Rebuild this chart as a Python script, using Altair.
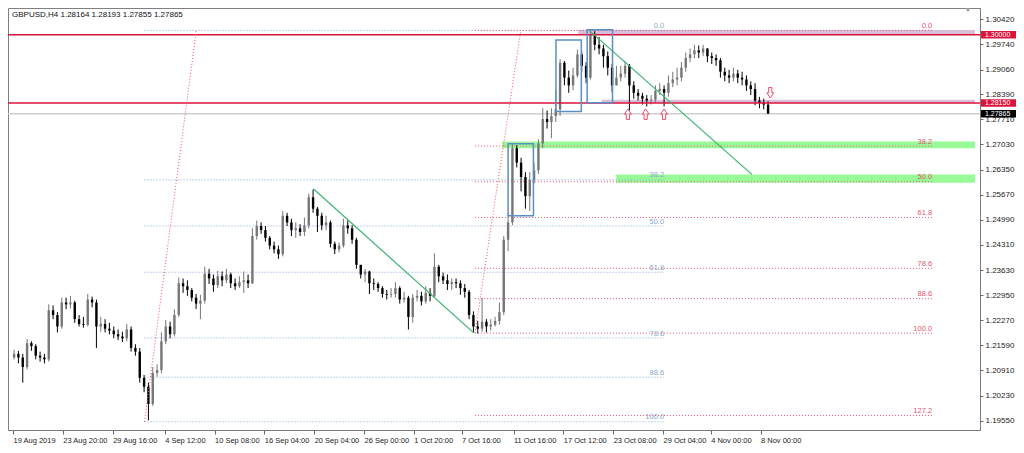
import json
import altair as alt
import pandas as pd

HEADER = "GBPUSD,H4  1.28164 1.28193 1.27855 1.27865"

# candles (each = two H4 bars), open of first candle, then close/high/low
OPEN0 = 1.2126
CLOSE = [1.2136, 1.2126, 1.2100, 1.2165, 1.2157, 1.2131, 1.2126, 1.2121, 1.2254, 1.2241,
         1.2210, 1.2275, 1.2270, 1.2275, 1.2230, 1.2217, 1.2215, 1.2283, 1.2275, 1.2210,
         1.2217, 1.2204, 1.2199, 1.2189, 1.2183, 1.2178, 1.2202, 1.2152, 1.2142, 1.2071,
         1.2047, 1.2000, 1.2084, 1.2092, 1.2170, 1.2210, 1.2189, 1.2241, 1.2327, 1.2319,
         1.2309, 1.2288, 1.2272, 1.2280, 1.2353, 1.2340, 1.2322, 1.2346, 1.2335, 1.2351,
         1.2327, 1.2319, 1.2330, 1.2335, 1.2327, 1.2455, 1.2482, 1.2471, 1.2450, 1.2429,
         1.2419, 1.2406, 1.2510, 1.2492, 1.2471, 1.2476, 1.2466, 1.2484, 1.2560, 1.2529,
         1.2510, 1.2484, 1.2492, 1.2434, 1.2419, 1.2429, 1.2484, 1.2476, 1.2445, 1.2377,
         1.2351, 1.2359, 1.2327, 1.2325, 1.2314, 1.2298, 1.2296, 1.2298, 1.2314, 1.2283,
         1.2288, 1.2236, 1.2288, 1.2293, 1.2278, 1.2301, 1.2293, 1.2372, 1.2346, 1.2335,
         1.2325, 1.2330, 1.2327, 1.2314, 1.2304, 1.2241, 1.2210, 1.2204, 1.2223, 1.2210,
         1.2215, 1.2225, 1.2249, 1.2445, 1.2492, 1.2693, 1.2654, 1.2615, 1.2563, 1.2607,
         1.2633, 1.2706, 1.2772, 1.2764, 1.2780, 1.2798, 1.2924, 1.2884, 1.2863, 1.2890,
         1.2947, 1.2916, 1.2884, 1.2999, 1.2973, 1.2963, 1.2942, 1.2911, 1.2863, 1.2884,
         1.2895, 1.2916, 1.2863, 1.2843, 1.2835, 1.2827, 1.2822, 1.2824, 1.2848, 1.2853,
         1.2843, 1.2869, 1.2879, 1.2884, 1.2911, 1.2937, 1.2947, 1.2958, 1.2952, 1.2963,
         1.2942, 1.2937, 1.2931, 1.2900, 1.2890, 1.2884, 1.2895, 1.2884, 1.2879, 1.2863,
         1.2853, 1.2822, 1.2816, 1.2811, 1.27865]
HIGH = [1.2147, 1.2144, 1.2136, 1.2176, 1.2170, 1.2162, 1.2142, 1.2136, 1.2270, 1.2267,
        1.2249, 1.2288, 1.2288, 1.2293, 1.2280, 1.2241, 1.2236, 1.2298, 1.2291, 1.2283,
        1.2236, 1.2230, 1.2220, 1.2210, 1.2202, 1.2196, 1.2217, 1.2210, 1.2162, 1.2152,
        1.2079, 1.2058, 1.2100, 1.2108, 1.2194, 1.2228, 1.2223, 1.2257, 1.2343, 1.2340,
        1.2335, 1.2314, 1.2298, 1.2296, 1.2372, 1.2366, 1.2351, 1.2361, 1.2359, 1.2366,
        1.2356, 1.2340, 1.2346, 1.2359, 1.2351, 1.2476, 1.2497, 1.2492, 1.2482, 1.2455,
        1.2440, 1.2429, 1.2523, 1.2518, 1.2502, 1.2492, 1.2487, 1.2505, 1.2570, 1.2581,
        1.2534, 1.2518, 1.2510, 1.2497, 1.2440, 1.2437, 1.2502, 1.2497, 1.2484, 1.2450,
        1.2372, 1.2366, 1.2361, 1.2340, 1.2330, 1.2319, 1.2309, 1.2314, 1.2330, 1.2319,
        1.2304, 1.2293, 1.2298, 1.2309, 1.2304, 1.2319, 1.2314, 1.2408, 1.2377, 1.2356,
        1.2351, 1.2340, 1.2340, 1.2335, 1.2325, 1.2309, 1.2251, 1.2225, 1.2288, 1.2230,
        1.2230, 1.2236, 1.2275, 1.2455, 1.2513, 1.2706, 1.2701, 1.2667, 1.2628, 1.2628,
        1.2654, 1.2717, 1.2801, 1.2795, 1.2801, 1.2850, 1.2934, 1.2929, 1.2903, 1.2911,
        1.2960, 1.2955, 1.2926, 1.3012, 1.3010, 1.2994, 1.2973, 1.2955, 1.2921, 1.2916,
        1.2916, 1.2929, 1.2921, 1.2874, 1.2853, 1.2843, 1.2837, 1.2837, 1.2863, 1.2869,
        1.2863, 1.2890, 1.2900, 1.2911, 1.2926, 1.2952, 1.2963, 1.2973, 1.2971, 1.2973,
        1.2963, 1.2952, 1.2947, 1.2937, 1.2911, 1.2905, 1.2911, 1.2905, 1.2900, 1.2890,
        1.2874, 1.2869, 1.2832, 1.2827, 1.2820]
LOW = [1.2121, 1.2110, 1.2058, 1.2094, 1.2144, 1.2121, 1.2115, 1.2110, 1.2115, 1.2230,
       1.2194, 1.2204, 1.2257, 1.2259, 1.2220, 1.2210, 1.2207, 1.2210, 1.2262, 1.2152,
       1.2196, 1.2194, 1.2189, 1.2178, 1.2173, 1.2168, 1.2170, 1.2142, 1.2131, 1.2058,
       1.2032, 1.1956, 1.1995, 1.2074, 1.2084, 1.2162, 1.2178, 1.2183, 1.2236, 1.2301,
       1.2293, 1.2278, 1.2257, 1.2230, 1.2272, 1.2325, 1.2304, 1.2314, 1.2319, 1.2327,
       1.2314, 1.2309, 1.2314, 1.2301, 1.2314, 1.2325, 1.2445, 1.2461, 1.2440, 1.2419,
       1.2408, 1.2393, 1.2400, 1.2482, 1.2455, 1.2450, 1.2455, 1.2455, 1.2476, 1.2518,
       1.2466, 1.2471, 1.2471, 1.2424, 1.2406, 1.2411, 1.2424, 1.2461, 1.2434, 1.2366,
       1.2340, 1.2330, 1.2298, 1.2309, 1.2304, 1.2288, 1.2283, 1.2288, 1.2288, 1.2272,
       1.2275, 1.2202, 1.2220, 1.2278, 1.2267, 1.2272, 1.2278, 1.2288, 1.2330, 1.2325,
       1.2309, 1.2309, 1.2314, 1.2296, 1.2288, 1.2230, 1.2194, 1.2191, 1.2196, 1.2194,
       1.2199, 1.2210, 1.2215, 1.2241, 1.2414, 1.2484, 1.2641, 1.2576, 1.2529, 1.2523,
       1.2597, 1.2623, 1.2693, 1.2746, 1.2720, 1.2764, 1.2780, 1.2863, 1.2843, 1.2850,
       1.2884, 1.2900, 1.2869, 1.2879, 1.2958, 1.2947, 1.2911, 1.2890, 1.2845, 1.2863,
       1.2874, 1.2884, 1.2795, 1.2827, 1.2822, 1.2811, 1.2806, 1.2811, 1.2816, 1.2837,
       1.2806, 1.2832, 1.2858, 1.2863, 1.2874, 1.2900, 1.2926, 1.2937, 1.2937, 1.2942,
       1.2926, 1.2921, 1.2916, 1.2884, 1.2874, 1.2869, 1.2874, 1.2869, 1.2863, 1.2848,
       1.2837, 1.2809, 1.2801, 1.2798, 1.27855]

TICK_POS = [0, 23, 46, 70, 93, 116, 139, 162, 185, 207, 231, 254, 277, 300, 322, 345]
TICK_LABELS = ["19 Aug 2019", "23 Aug 20:00", "29 Aug 16:00", "4 Sep 12:00", "10 Sep 08:00",
               "16 Sep 04:00", "20 Sep 04:00", "26 Sep 00:00", "1 Oct 20:00", "7 Oct 16:00",
               "11 Oct 16:00", "17 Oct 12:00", "23 Oct 08:00", "29 Oct 04:00", "4 Nov 00:00",
               "8 Nov 00:00"]
Y_TICKS = [1.30420, 1.29740, 1.29060, 1.28390, 1.27710, 1.27030, 1.26350, 1.25670, 1.24990,
           1.24310, 1.23630, 1.22950, 1.22270, 1.21590, 1.20910, 1.20230, 1.19550]

# Fibonacci retracements: (start bar, end bar, high, low)
FIB_LEVELS_BLUE = [0.0, 38.2, 50.0, 61.8, 78.6, 88.6, 100.0]
FIB_BLUE = (60.7, 300.5, 1.3012, 1.1952)
FIB_LEVELS_RED = [0.0, 38.2, 50.0, 61.8, 78.6, 88.6, 100.0, 127.2]
FIB_RED = (213.2, 424.2, 1.3012, 1.2192)

# dotted fib diagonals (x1, p1, x2, p2)
DIAGONALS = [(60.7, 1.1952, 84.6, 1.3012), (213.2, 1.2192, 234.4, 1.3012)]
# green trend lines
TRENDS = [(138.6, 1.2583, 212.8, 1.2192), (265.9, 1.3012, 341.0, 1.2622)]
# blue rectangles (x1, x2, p1, p2)
BOXES = [(228.5, 240.2, 1.2705, 1.2510), (250.6, 262.3, 1.2986, 1.2792), (265.0, 276.7, 1.3014, 1.2816)]
# zones (x1, x2, p1, p2, colour)
ZONES = [(260.9, 444, 1.3013, 1.3001, "#d8bfd8"), (271.7, 444, 1.2824, 1.2815, "#d8bfd8"),
         (225.8, 444, 1.2711, 1.2693, "#98fb98"), (278.4, 444, 1.2622, 1.2599, "#98fb98")]
RED_LINES = [1.30000, 1.28150]
BID = 1.27865
UP_ARROWS = [(283.8, 1.2785), (292.0, 1.2785), (300.5, 1.2785)]
DOWN_ARROWS = [(349.5, 1.2843)]
TAG_PRICES = [1.30000, 1.28150, 1.27865]
TAG_COLORS = ["#dc143c", "#dc143c", "#000000"]

W, H = 972, 422
FONT = "Liberation Sans"
X_SCALE = alt.Scale(domain=[0, 444], nice=False, zero=False)
Y_SCALE = alt.Scale(domain=[1.19297, 1.30726], nice=False, zero=False)
XAX = alt.Axis(values=TICK_POS, labelExpr=f"{json.dumps(TICK_LABELS)}[indexof({json.dumps(TICK_POS)}, datum.value)]",
               labelAlign="left", labelPadding=2, tickSize=4, tickColor="#666", domainColor="#7a7a7a",
               labelFontSize=7.5, labelColor="#222", labelFont=FONT, labelOverlap=False, labelFlush=False,
               labelBound=False, grid=False, title=None)
YAX = alt.Axis(orient="right", values=Y_TICKS, format=".5f", labelFontSize=8, labelColor="#222",
               labelFont=FONT, tickSize=3, tickColor="#666", domainColor="#7a7a7a", labelPadding=2,
               labelOverlap=False, grid=False, title=None)


def X(f):
    return alt.X(f, type="quantitative", scale=X_SCALE, axis=XAX, title=None)


def Y(f):
    return alt.Y(f, type="quantitative", scale=Y_SCALE, axis=YAX, title=None)


opens = [OPEN0] + CLOSE[:-1]
cdf = pd.DataFrame({"i": [2 * k + 0.5 for k in range(len(CLOSE))], "o": opens, "c": CLOSE,
                    "h": [max(h, o, c) for h, o, c in zip(HIGH, opens, CLOSE)],
                    "l": [min(l, o, c) for l, o, c in zip(LOW, opens, CLOSE)]})
col = alt.condition("datum.c >= datum.o", alt.value("#767676"), alt.value("#000000"))

zdf = pd.DataFrame(ZONES, columns=["x1", "x2", "p1", "p2", "col"])
zones = alt.Chart(zdf).mark_rect().encode(x=X("x1"), x2="x2", y=Y("p1"), y2="p2",
                                          color=alt.Color("col:N", scale=None))

fib_rows = []
for lv in FIB_LEVELS_BLUE:
    x1, x2, hi, lo = FIB_BLUE
    fib_rows.append({"x1": x1, "x2": x2, "p": hi - (hi - lo) * lv / 100, "t": f"{lv:.1f}",
                     "col": "#86a8d4", "tc": "#8ea6c8"})
for lv in FIB_LEVELS_RED:
    x1, x2, hi, lo = FIB_RED
    fib_rows.append({"x1": x1, "x2": x2, "p": hi - (hi - lo) * lv / 100, "t": f"{lv:.1f}",
                     "col": "#ec5a78", "tc": "#e0566f"})
fdf = pd.DataFrame(fib_rows)
fib_lines = alt.Chart(fdf).mark_rule(strokeDash=[1, 2], strokeWidth=1).encode(
    x=X("x1"), x2="x2", y=Y("p"), color=alt.Color("col:N", scale=None))
fib_text = alt.Chart(fdf).mark_text(align="right", baseline="bottom", fontSize=7.5, font=FONT, dy=-0.5).encode(
    x=X("x2"), y=Y("p"), text="t:N", color=alt.Color("tc:N", scale=None))

ddf = pd.DataFrame(DIAGONALS, columns=["x1", "p1", "x2", "p2"])
diags = alt.Chart(ddf).mark_rule(strokeDash=[1, 2], strokeWidth=1, color="#ff4d5a").encode(
    x=X("x1"), y=Y("p1"), x2="x2", y2="p2")
tdf = pd.DataFrame(TRENDS, columns=["x1", "p1", "x2", "p2"])
trends = alt.Chart(tdf).mark_rule(strokeWidth=1.2, color="#3cb371").encode(
    x=X("x1"), y=Y("p1"), x2="x2", y2="p2")
bdf = pd.DataFrame(BOXES, columns=["x1", "x2", "p1", "p2"])
boxes = alt.Chart(bdf).mark_rect(fillOpacity=0, stroke="#5b8ec4", strokeWidth=1.5).encode(
    x=X("x1"), x2="x2", y=Y("p1"), y2="p2")

bid = alt.Chart(pd.DataFrame({"p": [BID]})).mark_rule(color="#cfcfcf", strokeWidth=1.5).encode(y=Y("p"))
red = alt.Chart(pd.DataFrame({"p": RED_LINES})).mark_rule(color="#dc143c", strokeWidth=1.5).encode(y=Y("p"))

wicks = alt.Chart(cdf).mark_rule(strokeWidth=1).encode(x=X("i"), y=Y("l"), y2="h", color=col)
bodies = alt.Chart(cdf).mark_bar(size=2.4).encode(x=X("i"), y=Y("o"), y2="c", color=col)

UP = "M-0.3,1 L0.3,1 L0.3,0 L0.65,0 L0,-1 L-0.65,0 L-0.3,0 Z"
DOWN = "M-0.3,-1 L0.3,-1 L0.3,0 L0.65,0 L0,1 L-0.65,0 L-0.3,0 Z"
up = alt.Chart(pd.DataFrame(UP_ARROWS, columns=["x", "p"])).mark_point(
    shape=UP, size=110, filled=False, stroke="#e8506a", strokeWidth=1, opacity=1).encode(x=X("x"), y=Y("p"))
down = alt.Chart(pd.DataFrame(DOWN_ARROWS, columns=["x", "p"])).mark_point(
    shape=DOWN, size=110, filled=False, stroke="#e8506a", strokeWidth=1, opacity=1).encode(x=X("x"), y=Y("p"))

tag_df = pd.DataFrame({"p": TAG_PRICES, "col": TAG_COLORS, "t": [f"{v:.5f}" for v in TAG_PRICES]})
tag_box = alt.Chart(tag_df).mark_rule(strokeWidth=7.5).encode(
    x=alt.value(W + 1), x2=alt.value(W + 36), y=Y("p"), color=alt.Color("col:N", scale=None))
tag_txt = alt.Chart(tag_df).mark_text(align="left", baseline="middle", fontSize=7, font=FONT, color="white").encode(
    x=alt.value(W + 5), y=Y("p"), text="t:N")

header = alt.Chart(pd.DataFrame({"t": [HEADER]})).mark_text(
    align="left", baseline="middle", fontSize=8, font=FONT, color="#111").encode(
    x=alt.value(4), y=alt.value(7), text="t:N")
shift = alt.Chart(pd.DataFrame({"t": [1]})).mark_point(shape="triangle-down", size=28, filled=True,
                                                      color="#a0a0a0", opacity=1).encode(
    x=alt.value(W - 12), y=alt.value(2))

chart = alt.layer(zones, fib_lines, bid, wicks, bodies, red, diags, trends, boxes, fib_text,
                  up, down, tag_box, tag_txt, header, shift).properties(
    width=W, height=H, autosize=alt.AutoSizeParams(type="none"),
    padding={"left": 0, "top": 0, "right": 36, "bottom": 15},
    background="white").configure_view(stroke="#808080", strokeWidth=1)

chart.save("out.html", embed_options={"renderer": "svg", "actions": False})
